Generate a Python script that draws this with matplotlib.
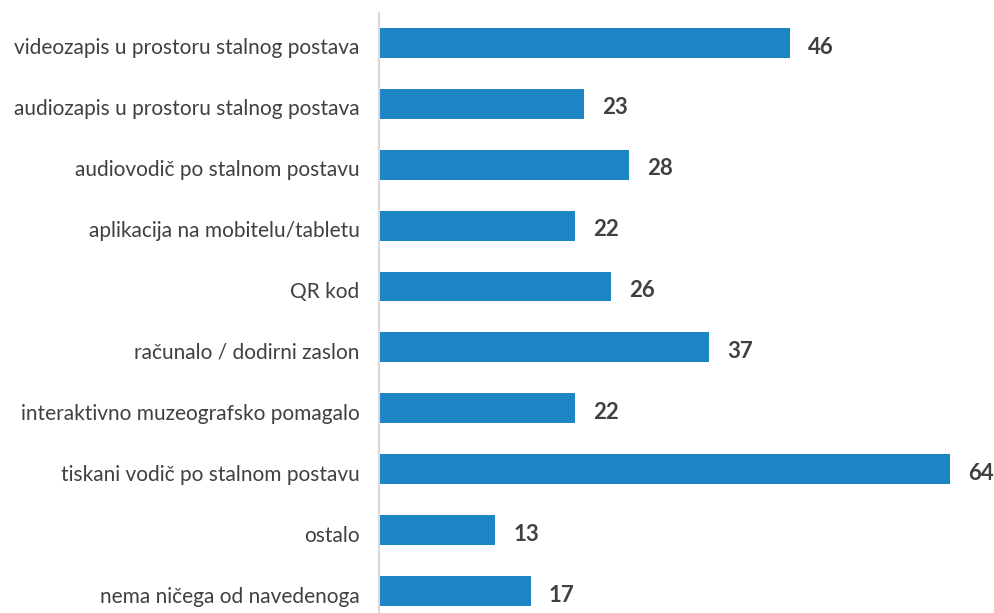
import matplotlib.pyplot as plt
import matplotlib.transforms as mtransforms

categories = [
    'videozapis u prostoru stalnog postava',
    'audiozapis u prostoru stalnog postava',
    'audiovodič po stalnom postavu',
    'aplikacija na mobitelu/tabletu',
    'QR kod',
    'računalo / dodirni zaslon',
    'interaktivno muzeografsko pomagalo',
    'tiskani vodič po stalnom postavu',
    'ostalo',
    'nema ničega od navedenoga',
]
values = [46, 23, 28, 22, 26, 37, 22, 64, 13, 17]

plt.rcParams['font.family'] = ['Lato', 'DejaVu Sans']

fig = plt.figure(figsize=(9.95, 6.13), dpi=100)
ax = fig.add_axes([379 / 995, 0, 589 / 995, 600 / 613])

pos = list(range(len(categories)))
ax.barh(pos, values, height=0.49, color='#1d84c6')
ax.set_xlim(0, 66)
ax.set_ylim(len(categories) - 1 + 0.36, -0.49)

ax.set_yticks(pos)
ax.set_yticklabels(categories, fontsize=15, color='#404040')
ax.tick_params(axis='y', length=0, pad=14)
ax.set_xticks([])

# nudge category labels down a little, like the original
shift = mtransforms.ScaledTranslation(0, -2.5 / 72, fig.dpi_scale_trans)
for lbl in ax.get_yticklabels():
    lbl.set_transform(lbl.get_transform() + shift)

for s in ['top', 'right', 'bottom']:
    ax.spines[s].set_visible(False)
ax.spines['left'].set_color('#d9d9d9')
ax.spines['left'].set_linewidth(1.5)

for p, v in zip(pos, values):
    ax.annotate(str(v), (v, p), xytext=(13, -3), textcoords='offset points',
                va='center', ha='left', fontsize=16, fontweight='bold',
                color='#404040', annotation_clip=False)

fig.savefig('out.png', dpi=100)
